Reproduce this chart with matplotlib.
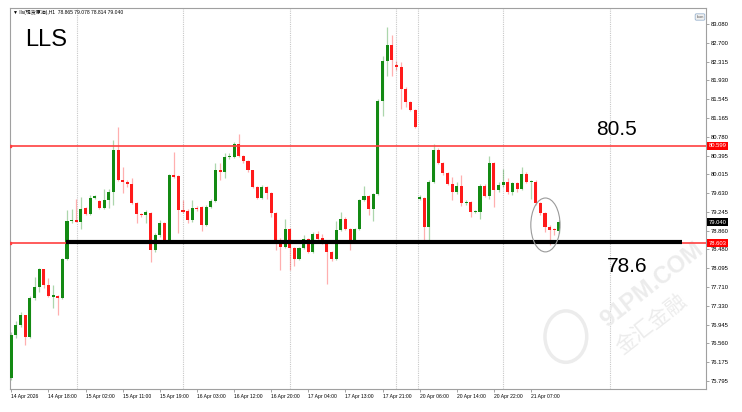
import matplotlib
matplotlib.use('Agg')
import matplotlib.pyplot as plt
import matplotlib.transforms as mtransforms
from matplotlib.patches import Rectangle, Ellipse

plt.rcParams['font.family'] = ['Liberation Sans', 'Noto Sans CJK SC', 'DejaVu Sans']

# hourly candles (bar 0 = 14 Apr 2026 10:00)
opens = [75.85, 76.73, 76.94, 77.15, 76.70, 77.48, 77.72, 78.08, 77.75, 77.50,
         77.53, 77.49, 78.28, 79.06, 79.09, 79.03, 79.32, 79.21, 79.54, 79.47,
         79.32, 79.48, 79.66, 80.51, 79.90, 79.86, 79.81, 79.42, 79.20, 79.18,
         79.22, 78.47, 78.77, 79.01, 78.64, 80.00, 79.98, 79.28, 79.27, 79.08,
         79.32, 79.34, 78.98, 79.34, 79.47, 80.11, 80.07, 80.36, 80.37, 80.64,
         80.39, 80.29, 80.10, 79.76, 79.54, 79.76, 79.64, 79.23, 78.67, 78.53,
         78.90, 78.50, 78.29, 78.50, 78.70, 78.43, 78.80, 78.70, 78.63, 78.43,
         78.29, 78.87, 79.11, 78.90, 78.63, 78.90, 79.48, 79.57, 79.30, 79.62,
         81.52, 82.32, 82.66, 82.25, 82.20, 81.76, 81.49, 81.32, 79.52, 79.54,
         78.94, 79.85, 80.51, 80.24, 80.05, 79.81, 79.65, 79.78, 79.42, 79.45,
         79.24, 79.25, 79.78, 79.58, 80.24, 79.69, 79.79, 79.85, 79.65, 79.83,
         79.71, 80.03, 79.85, 79.86, 79.42, 79.22, 78.94, 78.88, 78.865]
highs = [76.80, 77.01, 77.20, 77.15, 77.52, 77.92, 78.11, 78.09, 77.89, 77.75,
         77.55, 78.30, 79.28, 79.30, 79.52, 79.56, 79.35, 79.59, 79.59, 79.49,
         79.71, 79.71, 80.71, 80.99, 80.17, 79.90, 79.93, 79.45, 79.22, 79.28,
         79.24, 78.81, 79.08, 79.05, 80.03, 80.47, 80.00, 79.49, 79.30, 79.49,
         79.37, 79.37, 79.39, 79.52, 80.25, 80.24, 80.44, 80.44, 80.68, 80.84,
         80.41, 80.30, 80.11, 79.77, 79.79, 79.77, 79.66, 79.25, 78.71, 79.11,
         78.92, 78.52, 78.52, 78.77, 78.72, 78.84, 78.85, 78.80, 78.66, 78.45,
         79.07, 79.24, 79.14, 78.92, 78.92, 79.50, 79.77, 79.59, 79.64, 81.55,
         82.44, 83.02, 82.86, 82.32, 82.30, 81.80, 81.52, 81.35, 79.60, 79.56,
         79.90, 80.64, 80.56, 80.26, 80.07, 79.96, 79.86, 80.00, 79.49, 79.47,
         79.28, 79.81, 79.81, 80.39, 80.27, 79.86, 80.13, 79.93, 79.86, 79.86,
         80.17, 80.07, 79.90, 79.90, 79.45, 79.25, 78.98, 78.92, 79.078]
lows = [75.82, 76.68, 76.90, 76.52, 76.68, 77.45, 77.62, 77.69, 77.50, 77.29,
        77.14, 77.47, 78.26, 79.01, 79.03, 78.90, 79.18, 79.18, 79.51, 79.31,
        79.31, 79.32, 79.39, 79.88, 79.64, 79.76, 79.40, 79.01, 79.15, 79.01,
        78.23, 78.43, 78.74, 78.62, 78.62, 79.93, 78.81, 79.22, 79.01, 79.05,
        79.27, 78.86, 78.95, 79.32, 79.45, 79.90, 79.93, 80.32, 80.34, 80.36,
        80.24, 80.07, 79.73, 79.50, 79.52, 79.52, 79.15, 78.47, 78.06, 78.50,
        78.05, 78.15, 78.27, 78.48, 78.40, 78.41, 78.68, 78.60, 77.78, 78.25,
        78.27, 78.85, 78.88, 78.46, 78.61, 78.88, 79.46, 79.18, 79.07, 79.60,
        81.20, 82.03, 82.03, 82.15, 81.35, 81.39, 81.30, 80.95, 79.48, 78.64,
        78.64, 79.83, 80.22, 80.00, 79.79, 79.49, 79.62, 79.37, 79.39, 79.15,
        79.22, 79.11, 79.56, 79.52, 79.35, 79.65, 79.76, 79.62, 79.60, 79.66,
        79.69, 79.83, 79.52, 79.39, 79.18, 78.84, 78.57, 78.77, 78.814]
closes = [76.73, 76.94, 77.15, 76.70, 77.48, 77.72, 78.08, 77.75, 77.52, 77.54,
          77.49, 78.28, 79.06, 79.09, 79.05, 79.30, 79.21, 79.54, 79.56, 79.32,
          79.48, 79.66, 80.51, 79.90, 79.86, 79.81, 79.42, 79.20, 79.18, 79.24,
          78.47, 78.77, 79.01, 78.64, 80.00, 79.96, 79.28, 79.25, 79.08, 79.32,
          79.30, 78.98, 79.34, 79.47, 80.11, 80.07, 80.36, 80.37, 80.64, 80.39,
          80.29, 80.10, 79.76, 79.54, 79.76, 79.64, 79.23, 78.67, 78.53, 78.90,
          78.50, 78.29, 78.50, 78.70, 78.43, 78.80, 78.70, 78.68, 78.43, 78.29,
          78.87, 79.11, 78.90, 78.63, 78.90, 79.48, 79.57, 79.30, 79.62, 81.52,
          82.32, 82.66, 82.34, 82.20, 81.76, 81.49, 81.32, 80.98, 79.55, 78.94,
          79.85, 80.51, 80.24, 80.05, 79.81, 79.65, 79.78, 79.42, 79.45, 79.24,
          79.25, 79.78, 79.58, 80.24, 79.69, 79.79, 79.85, 79.65, 79.83, 79.71,
          80.03, 79.86, 79.86, 79.42, 79.22, 78.94, 78.88, 78.87, 79.040]

time_labels = ['14 Apr 2026', '14 Apr 18:00', '15 Apr 02:00', '15 Apr 11:00', '15 Apr 19:00',
               '16 Apr 03:00', '16 Apr 12:00', '16 Apr 20:00', '17 Apr 04:00', '17 Apr 13:00',
               '17 Apr 21:00', '20 Apr 06:00', '20 Apr 14:00', '20 Apr 22:00', '21 Apr 07:00']
price_ticks = [83.080, 82.700, 82.315, 81.930, 81.545, 81.165, 80.780, 80.395, 80.015, 79.630,
               79.245, 78.860, 78.480, 78.095, 77.710, 77.330, 76.945, 76.560, 76.175, 75.795]

resistance = 80.599
support = 78.603
neckline = 78.63
last_price = 79.040

fig = plt.figure(figsize=(7.42, 4.12), dpi=100)
ax = fig.add_axes([10 / 742, 1 - 389 / 412, 696 / 742, 381 / 412])

# vertical grid (MT4 style dotted)
for gx in [14.2, 37.1, 60.0, 83.0, 106.0, 129.0, 87.7]:
    ax.axvline(gx, color='#c8c8c8', ls=(0, (1, 1)), lw=0.8, zorder=0)

# candles
green = '#138a13'
red = '#ff1a1a'
for i, (o, h, l, c) in enumerate(zip(opens, highs, lows, closes)):
    col = green if c >= o else red
    ax.vlines(i, l, h, color=col, lw=0.9, alpha=0.35, zorder=2)
    body = max(abs(c - o), 0.03)
    ax.add_patch(Rectangle((i - 0.33, min(o, c)), 0.66, body, fc=col, ec='none', zorder=3))

# levels
ax.axhline(resistance, color='#ff4040', lw=1.2, zorder=4)
ax.axhline(support, color='#ff4040', lw=1.2, zorder=4)
ax.plot([-0.2], [resistance], 's', color='#ff4040', ms=2, zorder=4)
ax.plot([-0.2], [support], 's', color='#ff4040', ms=2, zorder=4)
ax.hlines(neckline, 11.8, 144.5, color='black', lw=3, zorder=5)

# circle around the last candles
ax.add_patch(Ellipse((115.1, 78.98), 6.3, 1.10, fill=False, ec='#9a9a9a', lw=0.8, zorder=6))

ax.text(7.5, 82.75, 'LLS', fontsize=17, ha='center', va='center')
ax.text(130.5, 80.92, '80.5', fontsize=15, ha='center', va='center')
ax.text(132.8, 78.14, '78.6', fontsize=15, ha='center', va='center')

# faint watermark
ax.text(138, 77.75, '91PM.COM', fontsize=17, color='#ececec', rotation=38,
        ha='center', va='center', fontweight='bold', zorder=1)
ax.text(138, 76.95, '金汇金融', fontsize=15, color='#ececec', rotation=38,
        ha='center', va='center', zorder=1)
ax.add_patch(Ellipse((119.5, 76.7), 9, 1.05, fill=False, ec='#ececec', lw=2.5, zorder=1))

ax.set_xlim(-0.28, 149.7)
ax.set_ylim(75.63, 83.41)

# axes look
for s in ax.spines.values():
    s.set_color('#a0a0a0')
    s.set_linewidth(0.8)

ax.yaxis.tick_right()
ax.set_yticks(price_ticks)
ax.set_yticklabels(['%.3f' % p for p in price_ticks])
ax.tick_params(axis='y', length=2, width=0.5, color='#808080', labelsize=4.2, pad=1.5)

ax.set_xticks(range(0, len(opens), 8))
ax.set_xticklabels(time_labels)
ax.tick_params(axis='x', length=2, width=0.5, color='#808080', labelsize=3.6, pad=1.5)
for lbl in ax.get_xticklabels():
    lbl.set_ha('left')

trans = mtransforms.blended_transform_factory(ax.transAxes, ax.transData)
ax.text(1.004, resistance, '%.3f' % resistance, transform=trans, color='white', fontsize=4.2,
        va='center', ha='left', bbox=dict(boxstyle='square,pad=0.25', fc='red', ec='none'), zorder=10)
ax.text(1.004, support, '%.3f' % support, transform=trans, color='white', fontsize=4.2,
        va='center', ha='left', bbox=dict(boxstyle='square,pad=0.25', fc='red', ec='none'), zorder=10)
ax.text(1.004, last_price, '%.3f' % last_price, transform=trans, color='white', fontsize=4.2,
        va='center', ha='left', bbox=dict(boxstyle='square,pad=0.25', fc='black', ec='none'), zorder=10)

# header line and small icon box
fig.text(13 / 742, 1 - 12 / 412, '▼ lls(现货原油),H1  78.865 79.078 78.814 79.040',
         fontsize=3.6, va='center', ha='left')
fig.text(700 / 742, 1 - 17 / 412, 'Ikon', fontsize=2.8, ha='center', va='center', color='#555555',
         bbox=dict(boxstyle='round,pad=0.3', fc='#f0f0f0', ec='#8aa8c8', lw=0.5))

fig.savefig('out.png', dpi=100)
